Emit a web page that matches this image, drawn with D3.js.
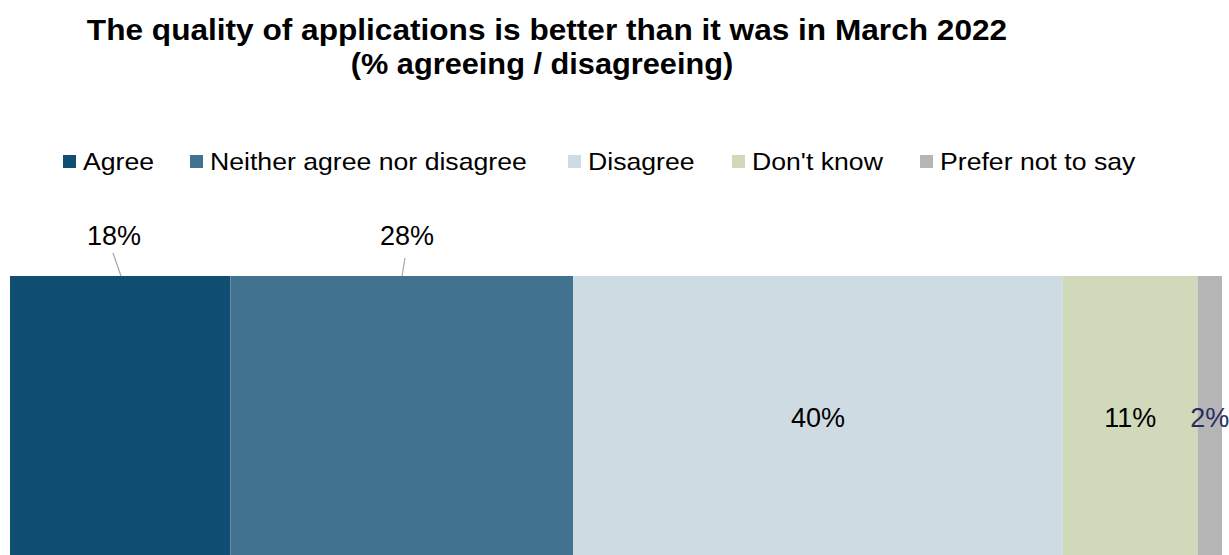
<!DOCTYPE html>
<html>
<head>
<meta charset="utf-8">
<script src="https://cdn.jsdelivr.net/npm/d3@7/dist/d3.min.js"></script>
<style>
  html, body { margin: 0; padding: 0; background: #fff; overflow: hidden; }
  svg { display: block; font-family: "Liberation Sans", Arial, sans-serif; }
</style>
</head>
<body>
<svg id="chart" width="1229" height="555"></svg>
<script>
// Survey responses, one stacked bar
const categories = ["Agree", "Neither agree nor disagree", "Disagree", "Don't know", "Prefer not to say"];
const values = [18, 28, 40, 11, 2];
const colors = ["#114e73", "#41728f", "#cfdbe3", "#d0dabb", "#b5b5b5"];
const titleLines = ["The quality of applications is better than it was in March 2022", "(% agreeing / disagreeing)"];

const svg = d3.select("#chart");

// Title (two centred lines, slightly wide set)
const titleX = [547, 542];
const titleY = [40, 74];
const titleStretch = [1.09, 1.06];
svg.append("g").selectAll("text").data(titleLines).join("text")
  .attr("transform", (d, i) => `translate(${titleX[i]},${titleY[i]}) scale(${titleStretch[i]},1)`)
  .attr("text-anchor", "middle")
  .attr("font-size", 29).attr("font-weight", "bold").attr("fill", "#000")
  .text(d => d);

// Legend
const legendX = [63, 190, 568, 732, 920];
const lg = svg.append("g").selectAll("g").data(categories).join("g")
  .attr("transform", (d, i) => `translate(${legendX[i]},155)`);
lg.append("rect").attr("width", 13).attr("height", 13).attr("fill", (d, i) => colors[i]);
lg.append("text")
  .attr("transform", "translate(20,15) scale(1.11,1)")
  .attr("font-size", 24).attr("fill", "#000").text(d => d);

// Stack
let acc = 0;
const segs = values.map((v, i) => { const s = { key: categories[i], v, x0: acc, x1: acc + v, i }; acc += v; return s; });

const x = d3.scaleLinear().domain([0, d3.sum(values)]).range([10, 1222]);
const y = d3.scaleBand().domain(["all"]).range([276, 836]).padding(0);

svg.append("g").selectAll("rect").data(segs).join("rect")
  .attr("x", d => x(d.x0)).attr("y", y("all"))
  .attr("width", d => x(d.x1) - x(d.x0)).attr("height", y.bandwidth())
  .attr("fill", d => colors[d.i]);

// Labels: the first two sit above the bar with leader lines
const labelFmt = v => v + "%";
const outside = [
  { i: 0, lx: 114, ly: 245, ax: 113, ay: 253, bx: 121 },
  { i: 1, lx: 407, ly: 245, ax: 405, ay: 258, bx: 402 }
];
outside.forEach(o => {
  svg.append("line")
    .attr("x1", o.ax).attr("y1", o.ay).attr("x2", o.bx).attr("y2", y("all"))
    .attr("stroke", "#a6a6a6").attr("stroke-width", 1.2);
  svg.append("text").attr("x", o.lx).attr("y", o.ly)
    .attr("text-anchor", "middle").attr("font-size", 27).attr("fill", "#000")
    .text(labelFmt(values[o.i]));
});

const inside = segs.filter(d => d.i >= 2);
svg.append("g").selectAll("text").data(inside).join("text")
  .attr("x", d => (x(d.x0) + x(d.x1)) / 2).attr("y", 427)
  .attr("text-anchor", "middle").attr("font-size", 27)
  .attr("fill", d => d.i === 4 ? "#2b2d5f" : "#000")
  .text(d => labelFmt(d.v));
</script>
</body>
</html>
